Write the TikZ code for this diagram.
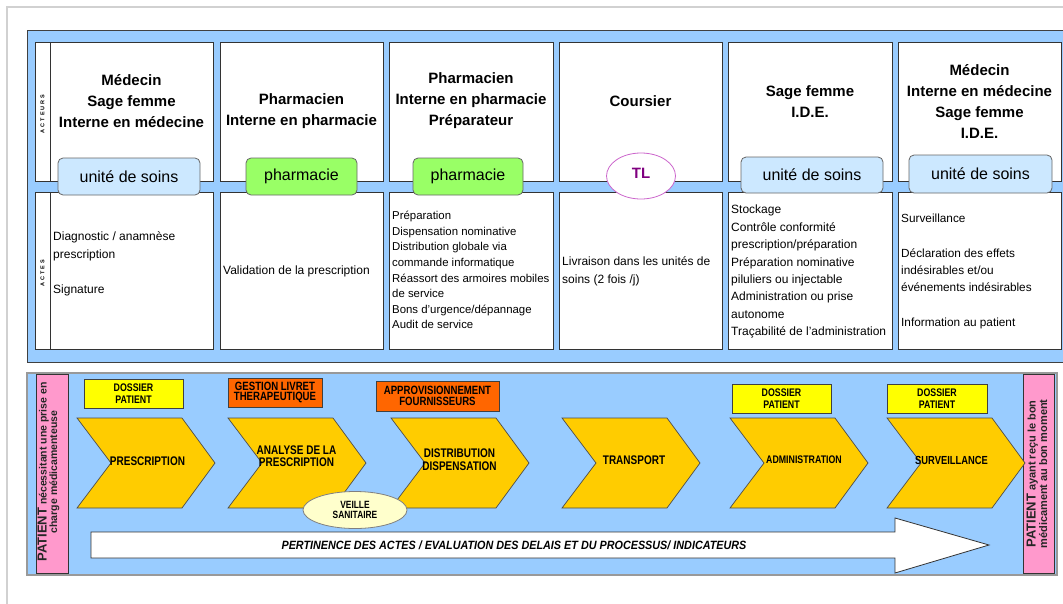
\documentclass[tikz,border=0pt]{standalone}
\usepackage{fontspec}
\setmainfont{Liberation Sans}
\newfontfamily\narrowfont{Liberation Sans}[FakeStretch=0.8]
\newfontfamily\pertfont{Liberation Sans}[FakeStretch=0.9]
\newfontfamily\spacedfont{Liberation Sans}[LetterSpace=35]
\usetikzlibrary{shapes.geometric}
\definecolor{panelblue}{HTML}{99CCFF}
\definecolor{chevfill}{HTML}{FFCC00}
\definecolor{pinkstrip}{HTML}{FF99CC}
\definecolor{dossierfill}{HTML}{FFFF00}
\definecolor{orangefill}{HTML}{FF6600}
\definecolor{soinsfill}{HTML}{CCE8FF}
\definecolor{pharmafill}{HTML}{99FF66}
\definecolor{veillefill}{HTML}{FFFFCC}
\definecolor{tlpurple}{HTML}{800080}
\definecolor{tlborder}{HTML}{CC66CC}
\begin{document}
\begin{tikzpicture}[x=1pt,y=-1pt,
  every node/.style={inner sep=0pt},
  cellbox/.style={draw=black!80, fill=white, line width=0.8pt},
  actor/.style={align=center, font=\fontsize{15}{21}\selectfont\bfseries},
  acttext/.style={anchor=north west, align=left},
  labelbox/.style={draw=black!60, rounded corners=5pt, line width=0.8pt, font=\fontsize{16}{18}\selectfont},
  chevstyle/.style={draw=black!70, fill=chevfill, line width=0.7pt},
  chevtext/.style={align=center, font=\narrowfont\bfseries\fontsize{12.5}{12.5}\selectfont},
  tagbox/.style={draw=black!75, line width=0.8pt, align=center, font=\narrowfont\bfseries\fontsize{11}{11.5}\selectfont},
  sidetext/.style={rotate=90, align=center, text=black!85},
  vlabel/.style={rotate=90, font=\spacedfont\bfseries\fontsize{5.5}{6}\selectfont}
]
\useasboundingbox (0,0) rectangle (1063,603);
\clip (0,0) rectangle (1063,603);
% outer frame
\draw[black!18, line width=2pt] (7,610) -- (7,7) -- (1070,7);
% ---------------- top panel ----------------
\draw[fill=panelblue, draw=black!75, line width=1pt] (27,30) rectangle (1075,362);
\draw[cellbox] (35,42) rectangle (50,181);
\draw[cellbox] (35,192) rectangle (50,349);
\foreach \a/\b in {50/213, 220/383, 389/553, 559/722, 728/892, 898/1061} {
  \draw[cellbox] (\a,42) rectangle (\b,181);
  \draw[cellbox] (\a,192) rectangle (\b,349);
}
\node[vlabel] (acteurs) at (42.5,114) {ACTEURS};
\node[vlabel] (actes) at (42.5,273) {ACTES};
% actors
\node[actor] (a1) at (131.5,101) {Médecin\\Sage femme\\Interne en médecine};
\node[actor] (a2) at (301.5,111.5) {Pharmacien\\Interne en pharmacie};
\node[actor] (a3) at (471,101) {Pharmacien\\Interne en pharmacie\\Préparateur};
\node[actor] (a4) at (640.5,101) {Coursier};
\node[actor] (a5) at (810,101.5) {Sage femme\\I.D.E.};
\node[actor] (a6) at (979.5,101.5) {Médecin\\Interne en médecine\\Sage femme\\I.D.E.};
% places
\node[labelbox, fill=soinsfill, minimum width=142pt, minimum height=37pt] (l1) at (129,176.5) {unité de soins};
\node[labelbox, fill=pharmafill, minimum width=111pt, minimum height=37pt] (l2) at (301.5,176.5) {pharmacie};
\node[labelbox, fill=pharmafill, minimum width=110pt, minimum height=37pt] (l3) at (468,176.5) {pharmacie};
\node[ellipse, draw=tlborder, fill=white, line width=0.8pt, minimum width=69pt, minimum height=46pt] (l4) at (641,176) {};
\node[text=tlpurple, font=\fontsize{15}{15}\selectfont\bfseries] (tl) at (641,173) {TL};
\node[labelbox, fill=soinsfill, minimum width=142pt, minimum height=36pt] (l5) at (812,175) {unité de soins};
\node[labelbox, fill=soinsfill, minimum width=143pt, minimum height=38pt] (l6) at (980.5,174) {unité de soins};
% actes
\node[acttext, font=\fontsize{12}{17.5}\selectfont] (t1) at (53,228.6) {\rule{0pt}{1em}Diagnostic / anamnèse\\prescription\\[17.5pt]Signature};
\node[acttext, font=\fontsize{12}{17.5}\selectfont] (t2) at (223,262.6) {\rule{0pt}{1em}Validation de la prescription};
\node[acttext, font=\fontsize{11.4}{15.6}\selectfont] (t3) at (392,208) {\rule{0pt}{1em}Préparation\\Dispensation nominative\\Distribution globale via\\commande informatique\\Réassort des armoires mobiles\\de service\\Bons d'urgence/dépannage\\Audit de service};
\node[acttext, font=\fontsize{12}{18}\selectfont] (t4) at (562,253.6) {\rule{0pt}{1em}Livraison dans les unités de\\soins (2 fois /j)};
\node[acttext, font=\fontsize{12}{17.4}\selectfont] (t5) at (731,201.6) {\rule{0pt}{1em}Stockage\\Contrôle conformité\\prescription/préparation\\Préparation nominative\\piluliers ou injectable\\Administration ou prise\\autonome\\Traçabilité de l’administration};
\node[acttext, font=\fontsize{11.8}{17.3}\selectfont] (t6) at (901,210.7) {\rule{0pt}{1em}Surveillance\\[17.3pt]Déclaration des effets\\indésirables et/ou\\événements indésirables\\[17.3pt]Information au patient};
% ---------------- bottom panel ----------------
\draw[fill=panelblue, draw=black!40, line width=1.2pt] (27,373) rectangle (1057,575);
\draw[fill=pinkstrip, draw=black!80, line width=0.8pt] (36,374) rectangle (68,573);
\draw[fill=pinkstrip, draw=black!80, line width=0.8pt] (1023,374) rectangle (1054,573);
\node[sidetext, font=\bfseries\fontsize{10.5}{10.5}\selectfont] (pin) at (48.5,472) {{\fontsize{13}{13}\selectfont PATIENT} nécessitant une prise en\\charge médicamenteuse};
\node[sidetext, font=\bfseries\fontsize{11}{11.5}\selectfont] (pout) at (1037,474) {{\fontsize{13}{13}\selectfont PATIENT} ayant reçu le bon\\médicament au bon moment};
% tags
\node[tagbox, fill=dossierfill, minimum width=99pt, minimum height=29pt] (d1) at (133.5,393.5) {DOSSIER\\PATIENT};
\node[tagbox, fill=orangefill, minimum width=94pt, minimum height=29pt, font=\narrowfont\bfseries\fontsize{12}{10.5}\selectfont] (g1) at (275,392.5) {GESTION LIVRET\\THERAPEUTIQUE};
\node[tagbox, fill=orangefill, minimum width=123pt, minimum height=30pt, font=\narrowfont\bfseries\fontsize{12}{11}\selectfont] (g2) at (437.5,396) {APPROVISIONNEMENT\\FOURNISSEURS};
\node[tagbox, fill=dossierfill, minimum width=99pt, minimum height=29pt] (d2) at (781.5,398.5) {DOSSIER\\PATIENT};
\node[tagbox, fill=dossierfill, minimum width=100pt, minimum height=29pt] (d3) at (937,398.5) {DOSSIER\\PATIENT};
% chevrons
\foreach \l in {77,228,391,562,730,887} {
  \draw[chevstyle] (\l,418) -- ++(105,0) -- ++(33,45) -- ++(-33,45) -- ++(-105,0) -- ++(34,-45) -- cycle;
}
\node[chevtext] (c1) at (147.5,461) {PRESCRIPTION};
\node[chevtext, font=\narrowfont\bfseries\fontsize{12.5}{12}\selectfont] (c2) at (296.5,456) {ANALYSE DE LA\\PRESCRIPTION};
\node[chevtext, font=\narrowfont\bfseries\fontsize{12.5}{13}\selectfont] (c3) at (459.5,459.5) {DISTRIBUTION\\DISPENSATION};
\node[chevtext] (c4) at (634,460) {TRANSPORT};
\node[chevtext, font=\narrowfont\bfseries\fontsize{11}{11}\selectfont] (c5) at (804,460) {ADMINISTRATION};
\node[chevtext, font=\narrowfont\bfseries\fontsize{11.7}{11.7}\selectfont] (c6) at (951.5,460) {SURVEILLANCE};
% veille
\node[ellipse, draw=black!50, fill=veillefill, line width=0.8pt, minimum width=104pt, minimum height=37pt, align=center, font=\narrowfont\bfseries\fontsize{10.5}{10.5}\selectfont] (veille) at (355,510) {VEILLE\\SANITAIRE};
% big arrow
\draw[draw=black!80, fill=white, line width=0.8pt] (91,532) -- (895,532) -- (895,518) -- (989,545) -- (895,573) -- (895,558) -- (91,558) -- cycle;
\node[font=\pertfont\bfseries\itshape\fontsize{12}{12}\selectfont] (pert) at (514,545) {PERTINENCE DES ACTES / EVALUATION DES DELAIS ET DU PROCESSUS/ INDICATEURS};
\end{tikzpicture}
\end{document}
